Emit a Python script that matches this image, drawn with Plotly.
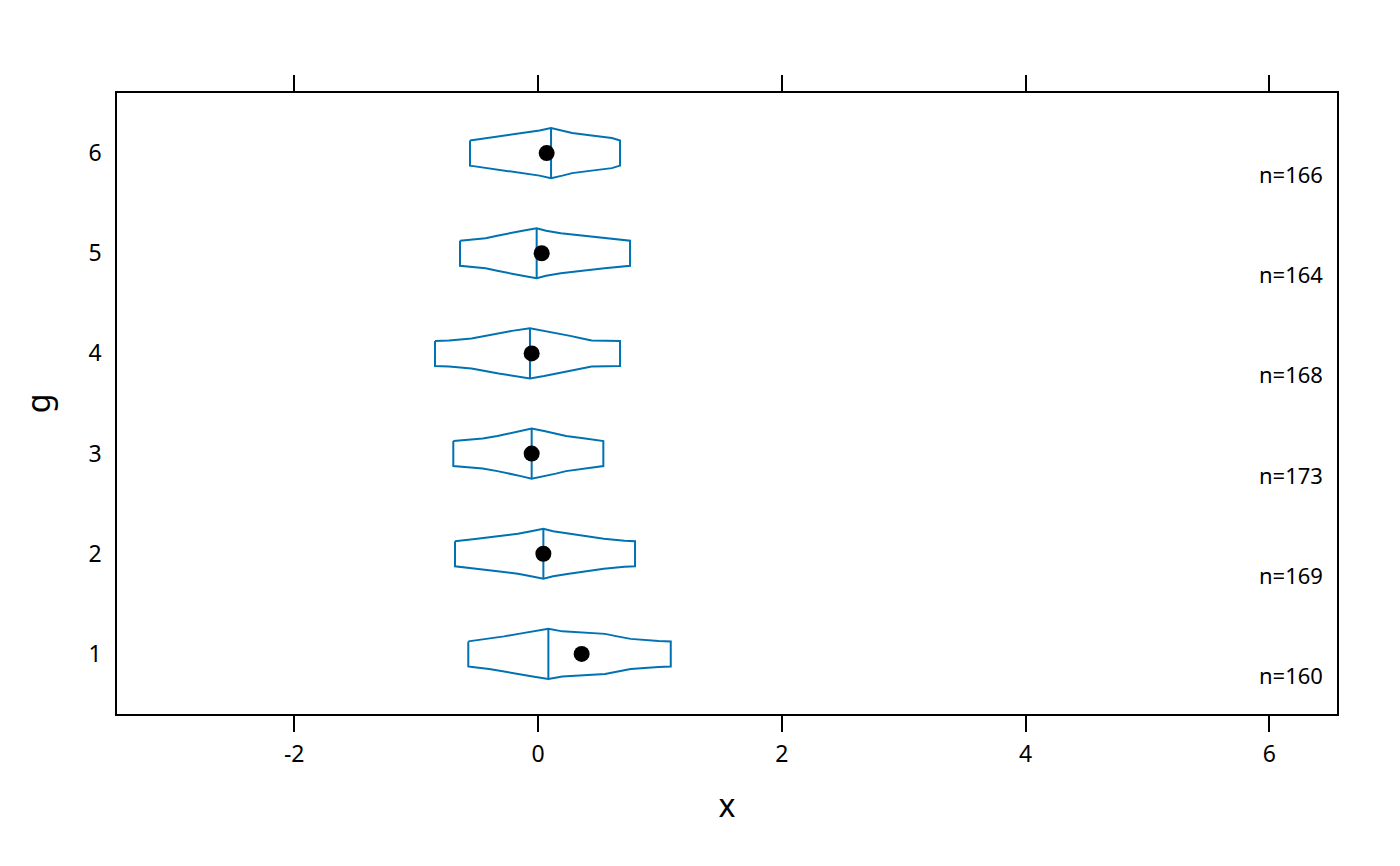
import plotly.graph_objects as go

# probabilities at which quantiles are read for the box-percentile outline
probs = [0.25, 0.26, 0.30, 0.35, 0.40, 0.45, 0.50, 0.55, 0.60, 0.65, 0.70, 0.74, 0.75]

groups = [1, 2, 3, 4, 5, 6]
quant_g1 = [-0.572, -0.54, -0.40, -0.278, -0.16, -0.044, 0.085, 0.20, 0.55, 0.65, 0.76, 0.99, 1.089]
quant_g2 = [-0.681, -0.64, -0.499, -0.332, -0.165, -0.057, 0.044, 0.124, 0.254, 0.38, 0.54, 0.71, 0.796]
quant_g3 = [-0.695, -0.63, -0.454, -0.333, -0.230, -0.141, -0.052, 0.05, 0.146, 0.23, 0.387, 0.506, 0.536]
quant_g4 = [-0.845, -0.73, -0.546, -0.434, -0.323, -0.214, -0.066, 0.05, 0.164, 0.264, 0.362, 0.44, 0.673]
quant_g5 = [-0.64, -0.59, -0.43, -0.335, -0.24, -0.126, -0.011, 0.066, 0.187, 0.364, 0.545, 0.70, 0.755]
quant_g6 = [-0.558, -0.53, -0.40, -0.26, -0.12, 0.012, 0.107, 0.20, 0.28, 0.44, 0.606, 0.66, 0.673]
quantiles = [quant_g1, quant_g2, quant_g3, quant_g4, quant_g5, quant_g6]

means = [0.358, 0.044, -0.052, -0.052, 0.03, 0.071]
counts = [160, 169, 173, 168, 164, 166]

x_ticks = [-2, 0, 2, 4, 6]
x_tick_labels = ["-2", "0", "2", "4", "6"]

blue = "#0072B2"
fig = go.Figure()

for g, q in zip(groups, quantiles):
    half = [0.5 * min(p, 1 - p) for p in probs]
    xs = list(q) + list(reversed(q)) + [q[0]]
    ys = [g + h for h in half] + [g - h for h in reversed(half)] + [g + half[0]]
    fig.add_trace(go.Scatter(x=xs, y=ys, mode="lines",
                             line=dict(color=blue, width=2),
                             hoverinfo="skip", showlegend=False))
    med = q[probs.index(0.50)]
    fig.add_trace(go.Scatter(x=[med, med], y=[g - 0.25, g + 0.25], mode="lines",
                             line=dict(color=blue, width=2),
                             hoverinfo="skip", showlegend=False))

fig.add_trace(go.Scatter(x=means, y=groups, mode="markers",
                         marker=dict(color="black", size=16),
                         showlegend=False))

for g, n in zip(groups, counts):
    fig.add_annotation(x=6.456, y=g - 0.21, text=f"n={n}", showarrow=False,
                       xanchor="right", yanchor="middle",
                       font=dict(size=22, color="black"))

fig.update_layout(
    width=1400, height=866,
    margin=dict(l=109, r=71, t=85, b=160),
    paper_bgcolor="white", plot_bgcolor="white",
    font=dict(family="Noto Sans", color="black", size=23),
    xaxis=dict(range=[-3.454, 6.555], tickvals=x_ticks, ticktext=x_tick_labels,
               ticks="outside", ticklen=16, tickwidth=1.5, tickcolor="black",
               showline=True, linecolor="black", linewidth=1.5, mirror="ticks",
               showgrid=False, zeroline=False, ticklabelstandoff=3,
               title=dict(text="x", font=dict(size=32), standoff=26)),
    yaxis=dict(range=[0.4, 6.6], tickvals=[1, 2, 3, 4, 5, 6],
               ticks="", showline=True, linecolor="black", linewidth=1.5,
               mirror=True, showgrid=False, zeroline=False,
               ticklabelstandoff=9,
               title=dict(text="g", font=dict(size=32), standoff=28)),
)

fig.write_html("out.html")
